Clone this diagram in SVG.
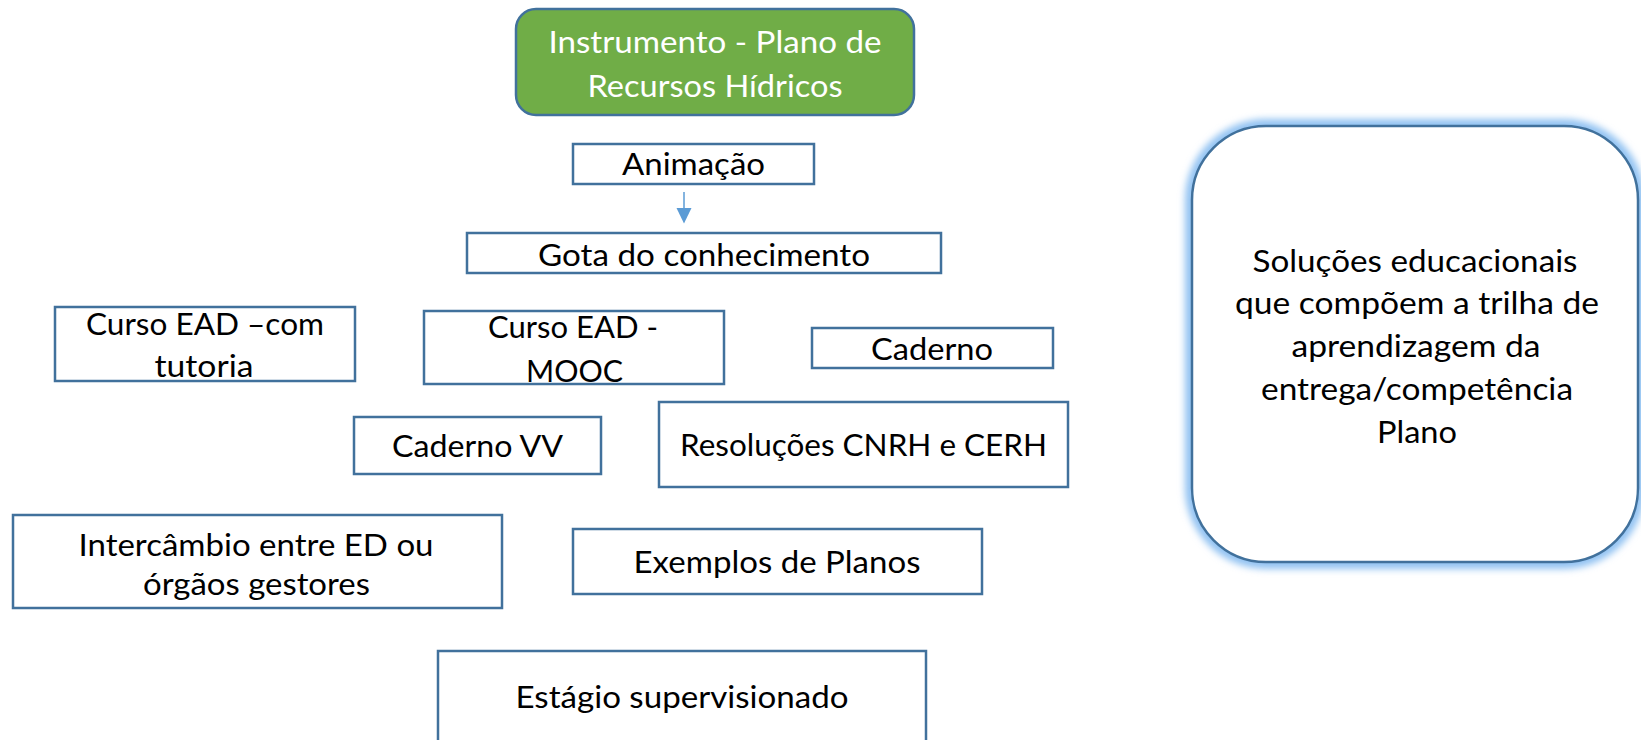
<svg xmlns="http://www.w3.org/2000/svg" width="1641" height="740" viewBox="0 0 1641 740">
<style>
.box{fill:#ffffff;stroke:#41719c;stroke-width:2.5}
.t{font-family:Lato,"Open Sans","Liberation Sans",sans-serif;font-size:30px;fill:#000000;text-anchor:middle}
.w{fill:#ffffff}
</style>
<defs>
<filter id="glow" x="-10%" y="-10%" width="120%" height="120%">
<feGaussianBlur stdDeviation="3.5"/>
</filter>
</defs>
<rect width="1641" height="740" fill="#ffffff"/>
<g id="connectors">
<line x1="684" y1="192" x2="684" y2="209" stroke="#5b9bd5" stroke-width="1.5"/>
<polygon points="676.5,208 691.5,208 684,223.5" fill="#5b9bd5"/>
</g>
<g id="node-instrumento">
<rect x="516" y="9" width="398" height="106" rx="20" fill="#70ad47" stroke="#41719c" stroke-width="2.5"/>
<text class="t w" x="715" y="53" textLength="333" lengthAdjust="spacingAndGlyphs">Instrumento - Plano de</text>
<text class="t w" x="715" y="97" textLength="255" lengthAdjust="spacingAndGlyphs">Recursos Hídricos</text>
</g>
<g id="node-animacao">
<rect class="box" x="573" y="144" width="241" height="40"/>
<text class="t" x="693.5" y="175" textLength="143" lengthAdjust="spacingAndGlyphs">Animação</text>
</g>
<g id="node-gota">
<rect class="box" x="467" y="233" width="474" height="40"/>
<text class="t" x="704" y="266" textLength="332" lengthAdjust="spacingAndGlyphs">Gota do conhecimento</text>
</g>
<g id="node-curso-tutoria">
<rect class="box" x="55" y="307" width="300" height="74"/>
<text class="t" x="205" y="335" textLength="238" lengthAdjust="spacingAndGlyphs">Curso EAD –com</text>
<text class="t" x="204" y="377" textLength="99" lengthAdjust="spacingAndGlyphs">tutoria</text>
</g>
<g id="node-curso-mooc">
<rect class="box" x="424" y="311" width="300" height="73"/>
<text class="t" x="573" y="338" textLength="170" lengthAdjust="spacingAndGlyphs">Curso EAD -</text>
<text class="t" x="574.5" y="382" textLength="97" lengthAdjust="spacingAndGlyphs">MOOC</text>
</g>
<g id="node-caderno">
<rect class="box" x="812" y="328" width="241" height="40"/>
<text class="t" x="932" y="360" textLength="122" lengthAdjust="spacingAndGlyphs">Caderno</text>
</g>
<g id="node-caderno-vv">
<rect class="box" x="354" y="417" width="247" height="57"/>
<text class="t" x="477.5" y="457" textLength="171" lengthAdjust="spacingAndGlyphs">Caderno VV</text>
</g>
<g id="node-resolucoes">
<rect class="box" x="659" y="402" width="409" height="85"/>
<text class="t" x="863.5" y="456" textLength="367" lengthAdjust="spacingAndGlyphs">Resoluções CNRH e CERH</text>
</g>
<g id="node-intercambio">
<rect class="box" x="13" y="515" width="489" height="93"/>
<text class="t" x="256" y="556" textLength="355" lengthAdjust="spacingAndGlyphs">Intercâmbio entre ED ou</text>
<text class="t" x="256.5" y="595" textLength="227" lengthAdjust="spacingAndGlyphs">órgãos gestores</text>
</g>
<g id="node-exemplos">
<rect class="box" x="573" y="529" width="409" height="65"/>
<text class="t" x="777" y="573" textLength="287" lengthAdjust="spacingAndGlyphs">Exemplos de Planos</text>
</g>
<g id="node-estagio">
<rect class="box" x="438" y="651" width="488" height="100"/>
<text class="t" x="682" y="708" textLength="333" lengthAdjust="spacingAndGlyphs">Estágio supervisionado</text>
</g>
<g id="node-solucoes">
<rect x="1192" y="126" width="446" height="436" rx="74" fill="none" stroke="#92c2f2" stroke-width="14" filter="url(#glow)"/>
<rect x="1192" y="126" width="446" height="436" rx="74" fill="#ffffff" stroke="#41719c" stroke-width="2.5"/>
<text class="t" x="1415" y="272" textLength="325" lengthAdjust="spacingAndGlyphs">Soluções educacionais</text>
<text class="t" x="1417" y="314" textLength="364" lengthAdjust="spacingAndGlyphs">que compõem a trilha de</text>
<text class="t" x="1416" y="357" textLength="249" lengthAdjust="spacingAndGlyphs">aprendizagem da</text>
<text class="t" x="1417" y="400" textLength="312" lengthAdjust="spacingAndGlyphs">entrega/competência</text>
<text class="t" x="1417" y="443" textLength="80" lengthAdjust="spacingAndGlyphs">Plano</text>
</g>
</svg>
